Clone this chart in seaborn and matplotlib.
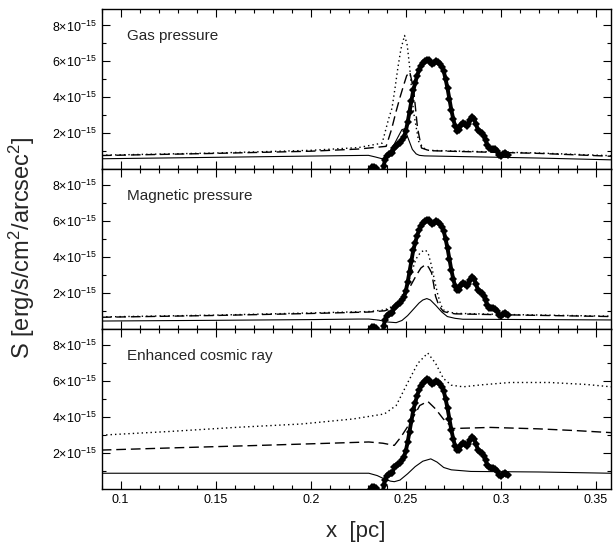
"""
Surface brightness profiles across the shock for three models
(gas pressure, magnetic pressure, enhanced cosmic ray) vs observed data.
"""

import pandas as pd
import matplotlib
matplotlib.use("Agg")
import matplotlib.pyplot as plt
from matplotlib.ticker import FixedLocator, MultipleLocator
import seaborn as sns

sns.set_theme(style="ticks")
plt.rcParams["font.family"] = ["Liberation Sans", "DejaVu Sans"]
plt.rcParams["mathtext.default"] = "regular"
plt.rcParams["axes.edgecolor"] = "black"
plt.rcParams["xtick.color"] = "black"
plt.rcParams["ytick.color"] = "black"

UNIT = 1e-15

# ---- observed profile (same in every panel), units of 1e-15 ----
obs_x = [0.2315, 0.2325, 0.2335, 0.2345, 0.2352, 0.2365, 0.2378, 0.2385, 0.2390, 0.2400,
         0.2410, 0.2420, 0.2430, 0.2440, 0.2450, 0.2460, 0.2470, 0.2480, 0.2490, 0.2500,
         0.2510, 0.2520, 0.2530, 0.2540, 0.2550, 0.2560, 0.2570, 0.2580, 0.2590, 0.2600,
         0.2610, 0.2620, 0.2630, 0.2640, 0.2650, 0.2660, 0.2670, 0.2680, 0.2690, 0.2700,
         0.2710, 0.2720, 0.2730, 0.2740, 0.2750, 0.2760, 0.2770, 0.2780, 0.2790, 0.2800,
         0.2810, 0.2820, 0.2830, 0.2840, 0.2850, 0.2860, 0.2870, 0.2880, 0.2890, 0.2900,
         0.2910, 0.2920, 0.2930, 0.2940, 0.2950, 0.2960, 0.2970, 0.2980, 0.2990, 0.3000,
         0.3010, 0.3020, 0.3030, 0.3040]
obs_y = [0.02, 0.10, 0.12, 0.08, -0.10, -0.80, -0.25, 0.20, 0.50, 0.75,
         0.85, 0.88, 0.90, 1.20, 1.30, 1.40, 1.45, 1.60, 1.80, 2.10,
         2.60, 3.20, 3.80, 4.40, 4.80, 5.20, 5.50, 5.75, 5.90, 6.00,
         6.10, 6.05, 5.95, 5.85, 5.90, 6.00, 5.95, 5.85, 5.70, 5.45,
         5.00, 4.50, 3.90, 3.30, 2.80, 2.40, 2.15, 2.20, 2.45, 2.55,
         2.50, 2.40, 2.50, 2.75, 2.90, 2.80, 2.50, 2.20, 2.05, 2.00,
         1.85, 1.60, 1.35, 1.20, 1.15, 1.15, 1.10, 1.00, 0.80, 0.75,
         0.85, 0.90, 0.85, 0.80]

# ---- Gas pressure model ----
gas_solid_x = [0.09, 0.15, 0.20, 0.2304, 0.234, 0.2376, 0.240, 0.243, 0.246, 0.248,
               0.2495, 0.251, 0.2535, 0.2555, 0.2572, 0.26, 0.28, 0.32, 0.358]
gas_solid_y = [0.58, 0.66, 0.73, 0.77, 0.68, 0.58, 0.75, 1.20, 1.80, 2.20,
               2.25, 1.80, 1.10, 0.85, 0.77, 0.74, 0.70, 0.62, 0.52]
gas_dot_x = [0.09, 0.15, 0.20, 0.225, 0.2376, 0.2395, 0.241, 0.2428, 0.2445, 0.2459,
             0.2475, 0.2494, 0.2508, 0.2521, 0.2541, 0.2568, 0.2593, 0.262, 0.28, 0.32, 0.358]
gas_dot_y = [0.78, 0.90, 1.05, 1.20, 1.45, 2.20, 2.80, 3.40, 4.60, 5.66,
             6.70, 7.44, 6.90, 5.66, 3.20, 1.55, 1.18, 1.05, 1.00, 0.90, 0.75]
gas_dash_x = [0.09, 0.15, 0.20, 0.225, 0.2397, 0.2425, 0.2449, 0.247, 0.249, 0.2505,
              0.2521, 0.2541, 0.2562, 0.2583, 0.2624, 0.28, 0.32, 0.358]
gas_dash_y = [0.76, 0.88, 1.00, 1.12, 1.27, 2.20, 3.20, 4.00, 4.70, 5.20,
              5.42, 4.50, 2.30, 1.18, 1.03, 0.98, 0.88, 0.72]

# ---- Magnetic pressure model ----
mag_solid_x = [0.09, 0.15, 0.20, 0.225, 0.2306, 0.236, 0.240, 0.245, 0.248, 0.251,
               0.254, 0.257, 0.259, 0.2611, 0.263, 0.266, 0.269, 0.2719, 0.276, 0.28, 0.32, 0.358]
mag_solid_y = [0.45, 0.49, 0.53, 0.56, 0.56, 0.50, 0.40, 0.36, 0.48, 0.75,
               1.10, 1.45, 1.62, 1.70, 1.62, 1.30, 0.95, 0.70, 0.60, 0.55, 0.53, 0.51]
mag_dot_x = [0.09, 0.15, 0.20, 0.2306, 0.239, 0.245, 0.248, 0.2513, 0.2554, 0.258,
             0.2605, 0.262, 0.2636, 0.2652, 0.2667, 0.2683, 0.2698, 0.273, 0.276, 0.30, 0.358]
mag_dot_y = [0.68, 0.78, 0.90, 0.98, 1.07, 1.36, 1.85, 2.58, 3.90, 4.30,
             4.40, 4.15, 3.52, 2.70, 2.00, 1.40, 1.07, 0.95, 0.88, 0.82, 0.72]
mag_dash_x = [0.09, 0.15, 0.20, 0.2306, 0.239, 0.245, 0.249, 0.2525, 0.2554, 0.258,
              0.2605, 0.262, 0.2636, 0.2647, 0.2657, 0.2675, 0.2698, 0.273, 0.276, 0.30, 0.358]
mag_dash_y = [0.66, 0.76, 0.87, 0.95, 1.02, 1.25, 1.75, 2.40, 2.96, 3.40,
              3.60, 3.45, 3.14, 2.50, 1.83, 1.30, 0.98, 0.90, 0.85, 0.80, 0.70]

# ---- Enhanced cosmic ray model ----
cr_solid_x = [0.09, 0.15, 0.20, 0.2306, 0.235, 0.239, 0.242, 0.244, 0.247, 0.251,
              0.255, 0.259, 0.2632, 0.2665, 0.270, 0.274, 0.2843, 0.32, 0.358]
cr_solid_y = [0.88, 0.88, 0.88, 0.88, 0.75, 0.55, 0.44, 0.41, 0.50, 0.85,
              1.25, 1.55, 1.68, 1.50, 1.20, 1.07, 0.98, 0.95, 0.88]
cr_dash_x = [0.09, 0.13, 0.17, 0.21, 0.2306, 0.238, 0.244, 0.2475, 0.2513, 0.2545,
             0.2574, 0.2616, 0.2657, 0.2698, 0.275, 0.285, 0.2946, 0.32, 0.34, 0.358]
cr_dash_y = [2.17, 2.30, 2.42, 2.55, 2.62, 2.55, 2.43, 2.90, 3.52, 4.10,
             4.65, 4.88, 4.46, 3.90, 3.37, 3.40, 3.43, 3.35, 3.25, 3.14]
cr_dot_x = [0.09, 0.125, 0.1603, 0.195, 0.2223, 0.2388, 0.245, 0.2513, 0.2564, 0.2616,
            0.2657, 0.2698, 0.274, 0.2802, 0.29, 0.305, 0.3256, 0.345, 0.358]
cr_dot_y = [3.00, 3.20, 3.43, 3.62, 3.90, 4.18, 4.65, 5.97, 7.00, 7.57,
            7.00, 6.16, 5.78, 5.69, 5.80, 5.93, 5.93, 5.82, 5.69]

panel_titles = ["Gas pressure", "Magnetic pressure", "Enhanced cosmic ray"]
panel_curves = [
    [(gas_solid_x, gas_solid_y), (gas_dot_x, gas_dot_y), (gas_dash_x, gas_dash_y)],
    [(mag_solid_x, mag_solid_y), (mag_dot_x, mag_dot_y), (mag_dash_x, mag_dash_y)],
    [(cr_solid_x, cr_solid_y), (cr_dot_x, cr_dot_y), (cr_dash_x, cr_dash_y)],
]
line_styles = [("-", 0.8), ((0, (1, 2.2)), 1.0), ((0, (7, 3.5)), 1.0)]

ytick_vals = [2, 4, 6, 8]
ytick_labels = [r"2$\times$10$^{-15}$", r"4$\times$10$^{-15}$",
                r"6$\times$10$^{-15}$", r"8$\times$10$^{-15}$"]
xtick_vals = [0.1, 0.15, 0.2, 0.25, 0.3, 0.35]
xtick_labels = ["0.1", "0.15", "0.2", "0.25", "0.3", "0.35"]

fig = plt.figure(figsize=(6.14, 5.44), dpi=100)
axes = fig.subplots(3, 1, sharex=True)
fig.subplots_adjust(left=0.1656, right=0.995, bottom=0.101, top=0.983, hspace=0)

for ax, title, curves in zip(axes, panel_titles, panel_curves):
    for (cx, cy), (ls, lw) in zip(curves, line_styles):
        df = pd.DataFrame({"x": cx, "y": [v * UNIT for v in cy]})
        sns.lineplot(data=df, x="x", y="y", ax=ax, color="black", lw=lw,
                     linestyle=ls, sort=False, estimator=None)
    obs = pd.DataFrame({"x": obs_x, "y": [v * UNIT for v in obs_y]})
    sns.lineplot(data=obs, x="x", y="y", ax=ax, color="black", lw=2.8,
                 marker="D", markersize=3.8, markeredgewidth=0,
                 sort=False, estimator=None)

    ax.set_xlim(0.09, 0.358)
    ax.set_ylim(0, 8.9 * UNIT)
    ax.set_yticks([v * UNIT for v in ytick_vals])
    ax.set_yticklabels(ytick_labels, fontsize=9)
    ax.yaxis.set_minor_locator(FixedLocator([v * UNIT for v in [1, 3, 5, 7]]))
    ax.set_xticks(xtick_vals)
    ax.set_xticklabels(xtick_labels, fontsize=9)
    ax.xaxis.set_minor_locator(MultipleLocator(0.01))
    ax.tick_params(which="both", direction="in", top=True, right=True, width=0.8)
    ax.tick_params(which="major", length=6)
    ax.tick_params(which="minor", length=3)
    ax.set_xlabel("")
    ax.set_ylabel("")
    for s in ax.spines.values():
        s.set_linewidth(1.0)
    ax.text(0.05, 0.81, title, transform=ax.transAxes, fontsize=11, va="baseline")

fig.text(356 / 614, 1 - 532 / 544, "x  [pc]", fontsize=16, ha="center", va="center")
fig.text(22 / 614, 1 - 248 / 544, r"S [erg/s/cm$^2$/arcsec$^2$]", fontsize=17,
         ha="center", va="center", rotation=90)

plt.savefig("out.png", dpi=100)
